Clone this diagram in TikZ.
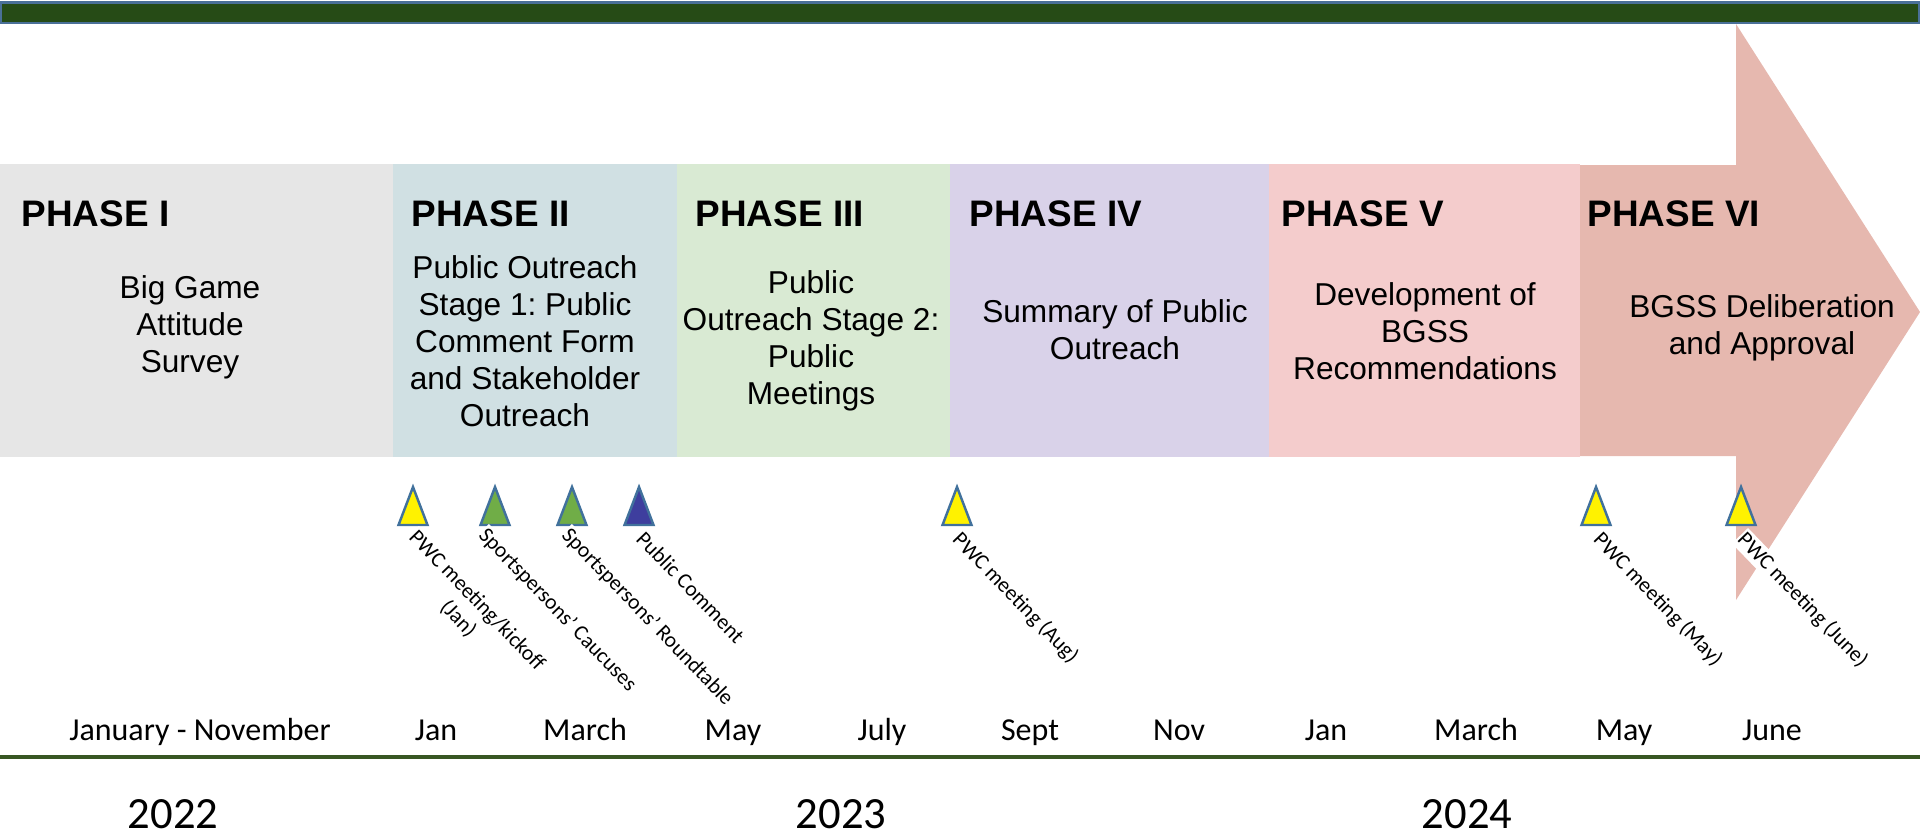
\documentclass[tikz,border=0pt]{standalone}
\usepackage{fontspec}
\setmainfont{Liberation Sans}
\newfontfamily\calibri{Carlito}
\usetikzlibrary{positioning}
\frenchspacing
\definecolor{bargreen}{HTML}{264B16}
\definecolor{barblue}{HTML}{4A7098}
\definecolor{linegreen}{HTML}{385723}
\definecolor{phaseone}{HTML}{E6E6E6}
\definecolor{phasetwo}{HTML}{D0E0E3}
\definecolor{phasethree}{HTML}{D9EAD3}
\definecolor{phasefour}{HTML}{D9D2E9}
\definecolor{phasefive}{HTML}{F4CCCC}
\definecolor{phasesix}{HTML}{E6B8AF}
\definecolor{markblue}{HTML}{41719C}
\definecolor{markgreen}{HTML}{70AD47}
\definecolor{markpurple}{HTML}{3E3E9E}

\begin{document}
\begin{tikzpicture}[scale=0.1,
  phasetitle/.style={anchor=base west, font=\fontsize{10.5}{12.6}\selectfont\bfseries},
  phasetext/.style={align=center, font=\fontsize{9}{10.5}\selectfont},
  monthlabel/.style={anchor=base, font=\calibri\fontsize{9.1}{11}\selectfont},
  yearlabel/.style={font=\calibri\fontsize{12.7}{15}\selectfont},
  milestone/.style={draw=markblue, line width=0.7pt, line join=miter},
  eventlabel/.style={anchor=north west, rotate=-46, align=center, fill=white,
    inner sep=0.4pt, font=\calibri\fontsize{6.15}{7.4}\selectfont}]
\tikzstyle{every node}+=[inner sep=0pt]
\useasboundingbox (0,0) rectangle (192,-83.8);
% top bar
\draw [barblue, fill=bargreen, line width=0.7pt] (0.1,-0.27) rectangle (191.9,-2.3);
% phase blocks
\fill [phaseone] (0,-16.4) rectangle (39.3,-45.7);
\fill [phasetwo] (39.3,-16.4) rectangle (67.7,-45.7);
\fill [phasethree] (67.7,-16.4) rectangle (95,-45.7);
\fill [phasefour] (95,-16.4) rectangle (126.9,-45.7);
\fill [phasefive] (126.9,-16.4) rectangle (158,-45.7);
\fill [phasesix] (158,-16.5) -- (173.6,-16.5) -- (173.6,-2.4) -- (192,-31.2)
  -- (173.6,-60) -- (173.6,-45.6) -- (158,-45.6) -- cycle;
% phase titles
\node [phasetitle] (t1) at (2.1,-22.6) {PHASE I};
\node [phasetitle] (t2) at (41.1,-22.6) {PHASE II};
\node [phasetitle] (t3) at (69.5,-22.6) {PHASE III};
\node [phasetitle] (t4) at (96.9,-22.6) {PHASE IV};
\node [phasetitle] (t5) at (128.1,-22.6) {PHASE V};
\node [phasetitle] (t6) at (158.7,-22.6) {PHASE VI};
% phase descriptions
\node [phasetext] (d1) at (19,-32.7) {Big Game\\Attitude\\Survey};
\node [phasetext] (d2) at (52.5,-34.1) {Public Outreach\\Stage 1: Public\\Comment Form\\and Stakeholder\\Outreach};
\node [phasetext] (d3) at (81.1,-34.1) {Public\\Outreach Stage 2:\\Public\\Meetings};
\node [phasetext] (d4) at (111.5,-33) {Summary of Public\\Outreach};
\node [phasetext] (d5) at (142.5,-33.1) {Development of\\BGSS\\Recommendations};
\node [phasetext] (d6) at (176.2,-32.8) {BGSS Deliberation\\and Approval};
% milestones
\draw [milestone, fill=yellow] (41.3,-48.7) -- (42.75,-52.5) -- (39.85,-52.5) -- cycle;
\draw [milestone, fill=markgreen] (49.5,-48.7) -- (50.95,-52.5) -- (48.05,-52.5) -- cycle;
\draw [milestone, fill=markgreen] (57.2,-48.7) -- (58.65,-52.5) -- (55.75,-52.5) -- cycle;
\draw [milestone, fill=markpurple] (63.9,-48.7) -- (65.35,-52.5) -- (62.45,-52.5) -- cycle;
\draw [milestone, fill=yellow] (95.7,-48.7) -- (97.15,-52.5) -- (94.25,-52.5) -- cycle;
\draw [milestone, fill=yellow] (159.6,-48.7) -- (161.05,-52.5) -- (158.15,-52.5) -- cycle;
\draw [milestone, fill=yellow] (174.1,-48.7) -- (175.55,-52.5) -- (172.65,-52.5) -- cycle;
\node [eventlabel] (e1) at (41.9,-52.5) {PWC meeting/kickoff\\(Jan)};
\node [eventlabel] (e2) at (48.9,-52.3) {Sportspersons’ Caucuses};
\node [eventlabel] (e3) at (57.2,-52.3) {Sportspersons’ Roundtable};
\node [eventlabel] (e4) at (64.6,-52.7) {Public Comment};
\node [eventlabel] (e5) at (96.3,-52.7) {PWC meeting (Aug)};
\node [eventlabel] (e6) at (160.4,-52.7) {PWC meeting (May)};
\node [eventlabel] (e7) at (174.8,-52.7) {PWC meeting (June)};
% months
\node [monthlabel] (jan22) at (20,-74) {January - November};
\node [monthlabel] (jan23) at (43.6,-74) {Jan};
\node [monthlabel] (mar23) at (58.5,-74) {March};
\node [monthlabel] (may23) at (73.3,-74) {May};
\node [monthlabel] (jul23) at (88.2,-74) {July};
\node [monthlabel] (sep23) at (103,-74) {Sept};
\node [monthlabel] (nov23) at (117.9,-74) {Nov};
\node [monthlabel] (jan24) at (132.6,-74) {Jan};
\node [monthlabel] (mar24) at (147.6,-74) {March};
\node [monthlabel] (may24) at (162.4,-74) {May};
\node [monthlabel] (jun24) at (177.2,-74) {June};
% base line
\coordinate (lstart) at (0,-75.7);
\coordinate (lend) at (192,-75.7);
\draw [linegreen, line width=1.3pt] (lstart) -- (lend);
% years
\node [yearlabel] (y22) at (17.3,-81.4) {2022};
\node [yearlabel] (y23) at (84.1,-81.4) {2023};
\node [yearlabel] (y24) at (146.7,-81.4) {2024};
\end{tikzpicture}
\end{document}
